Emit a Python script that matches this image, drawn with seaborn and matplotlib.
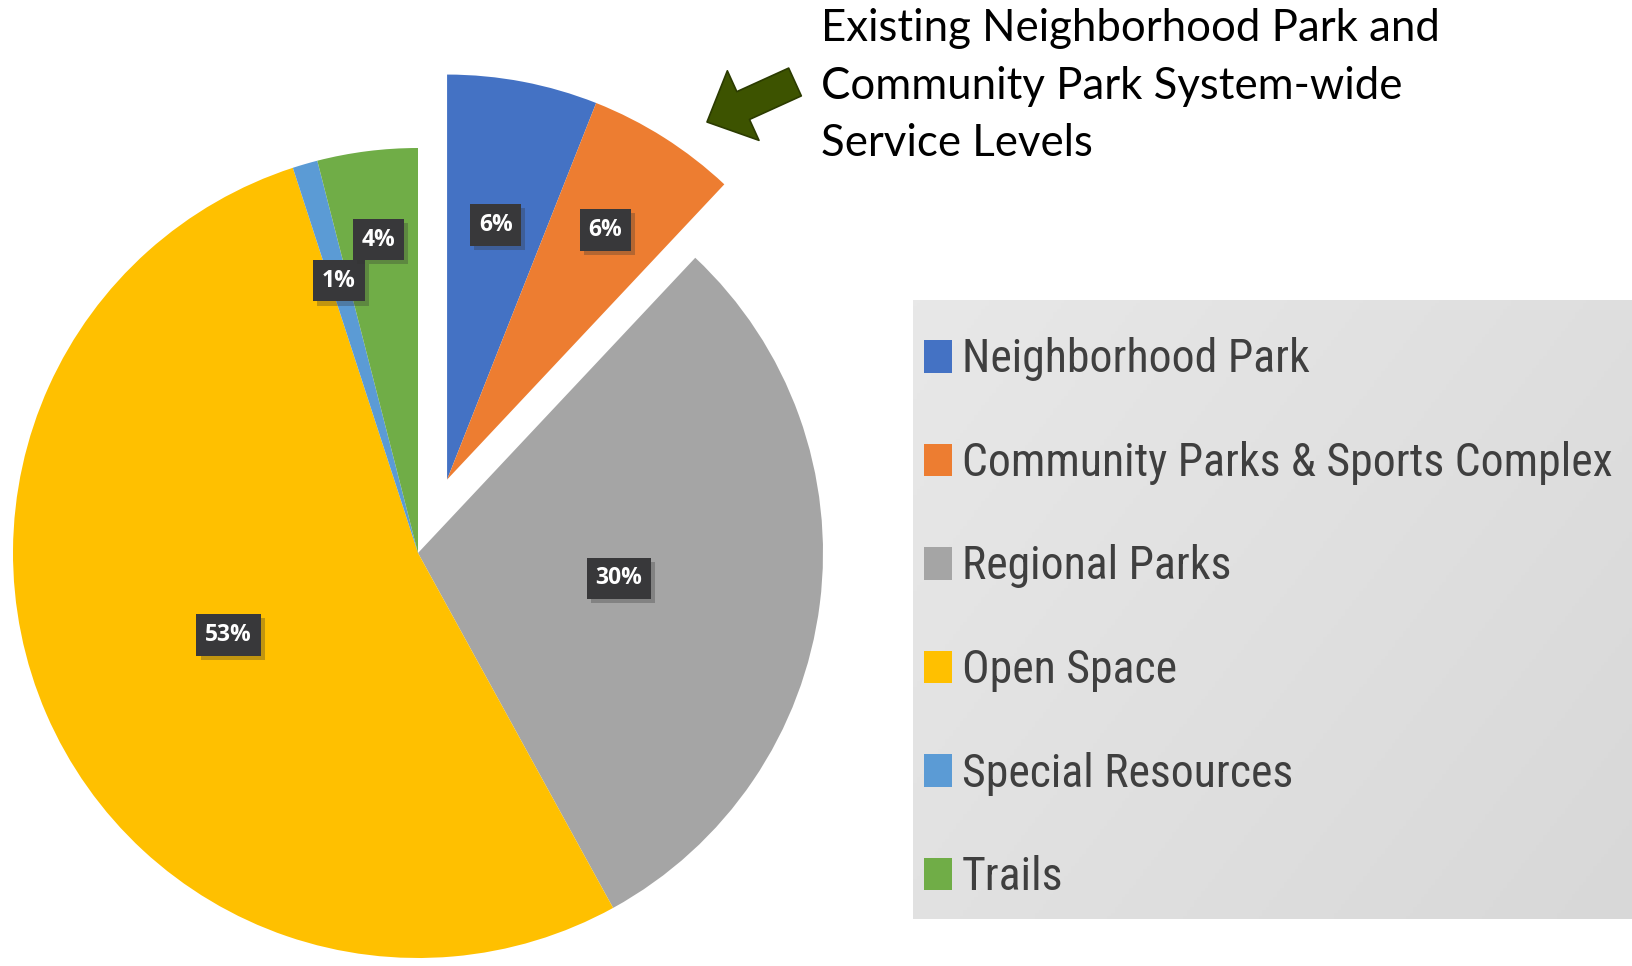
import numpy as np
import matplotlib
matplotlib.use("Agg")
import matplotlib.pyplot as plt
import matplotlib.patheffects as pe
from matplotlib import font_manager as fm
import seaborn as sns

# ---- data ----
categories = ["Neighborhood Park", "Community Parks & Sports Complex", "Regional Parks",
              "Open Space", "Special Resources", "Trails"]
shares = [6, 6, 30, 53, 1, 4]
pct_labels = ["6%", "6%", "30%", "53%", "1%", "4%"]
colors = ["#4472C4", "#ED7D31", "#A5A5A5", "#FFC000", "#5B9BD5", "#70AD47"]
exploded = [True, True, False, False, False, False]
label_radius = [0.64, 0.73, 0.50, 0.51, 0.70, 0.78]
note_lines = ["Existing Neighborhood Park and", "Community Park System-wide", "Service Levels"]

sns.set_theme(style="white")
plt.rcParams["font.family"] = ["Lato", "DejaVu Sans"]


def first_font(names):
    for n in names:
        try:
            fm.findfont(fm.FontProperties(family=n), fallback_to_default=False)
            return n
        except Exception:
            pass
    return "DejaVu Sans"


legend_font = first_font(["Liberation Sans Narrow", "Roboto Condensed", "Lato"])
note_font = first_font(["Lato", "Open Sans"])

W, H = 1633, 966
fig = plt.figure(figsize=(W / 100, H / 100), dpi=100)
fig.patch.set_facecolor("white")
renderer = fig.canvas.get_renderer()


def size_for_width(text, family, target_px, probe=30):
    t = fig.text(0, 0, text, fontsize=probe, family=family)
    w = t.get_window_extent(renderer=renderer).width
    t.remove()
    return probe * target_px / w


# ---- pie ----
cx, cy, R = 418, 553, 405
ax = fig.add_axes([(cx - R) / W, (H - cy - R) / H, 2 * R / W, 2 * R / H])
wedges, _ = ax.pie(shares, colors=colors, startangle=90, counterclock=False,
                   radius=1.0, wedgeprops=dict(linewidth=0))
ax.set_xlim(-1, 1)
ax.set_ylim(-1, 1)
ax.set_aspect("equal")
ax.axis("off")

ex_w = [w for w, e in zip(wedges, exploded) if e]
g_mid = np.deg2rad((min(w.theta1 for w in ex_w) + max(w.theta2 for w in ex_w)) / 2)
dist = 0.195
for w, e in zip(wedges, exploded):
    w.set_clip_on(False)
    if e:
        w.set_center((dist * np.cos(g_mid), dist * np.sin(g_mid)))

for w, lab, fr in zip(wedges, pct_labels, label_radius):
    m = np.deg2rad((w.theta1 + w.theta2) / 2)
    x0, y0 = w.center
    t = ax.text(x0 + fr * np.cos(m), y0 + fr * np.sin(m), lab, ha="center", va="center",
                color="white", fontsize=16.5, fontweight="bold", family=["Open Sans", "DejaVu Sans"],
                bbox=dict(boxstyle="square,pad=0.38", fc="#38383A", ec="none"), clip_on=False)
    t.get_bbox_patch().set_path_effects([
        pe.SimplePatchShadow(offset=(3, -3), shadow_rgbFace="#333333", alpha=0.3),
        pe.Normal()])

# ---- legend background with gradient ----
lx0, ly0, lx1, ly1 = 913, 300, 1633, 919
bg = fig.add_axes([lx0 / W, (H - ly1) / H, (lx1 - lx0) / W, (ly1 - ly0) / H])
gx, gy = np.meshgrid(np.linspace(0, 1, 200), np.linspace(0, 1, 200))
grad = 0.6 * gx + 0.4 * gy
bg.imshow(grad, cmap=matplotlib.colors.LinearSegmentedColormap.from_list("g", ["#E8E8E8", "#D8D8D8"]),
          aspect="auto", extent=(0, 1, 0, 1), origin="upper")
bg.axis("off")

leg_size = size_for_width(categories[1], legend_font, 650)
F = leg_size * 100 / 72  # font size in px
pitch = 104.4
leg = fig.legend(wedges, categories, loc="upper left",
                 bbox_to_anchor=(924 / W, 1 - (358 - 0.45 * F) / H), frameon=False,
                 prop=dict(family=[legend_font, "DejaVu Sans"], size=leg_size),
                 labelcolor="#3F3F3F", handlelength=28 / F, handleheight=33 / F,
                 handletextpad=10 / F, labelspacing=pitch / F - 0.98,
                 borderaxespad=0, borderpad=0)

# ---- note text and arrow ----
note_size = size_for_width(note_lines[0], note_font, 618)
NF = note_size * 100 / 72
fig.text(821 / W, 1 - 8 / H, "\n".join(note_lines), ha="left", va="top",
         fontsize=note_size, color="black", linespacing=1.365 * 58 / (1.2 * NF),
         family=[note_font, "DejaVu Sans"])
ax.annotate("", xy=(707, H - 122), xytext=(795, H - 82),
            xycoords="figure pixels", textcoords="figure pixels",
            arrowprops=dict(arrowstyle="simple,head_width=2.5,head_length=1.3,tail_width=1.0",
                            mutation_scale=22, fc="#3D5300", ec="#2B3B00", lw=1.2,
                            shrinkA=0, shrinkB=0))

fig.savefig("out.png", dpi=100)
